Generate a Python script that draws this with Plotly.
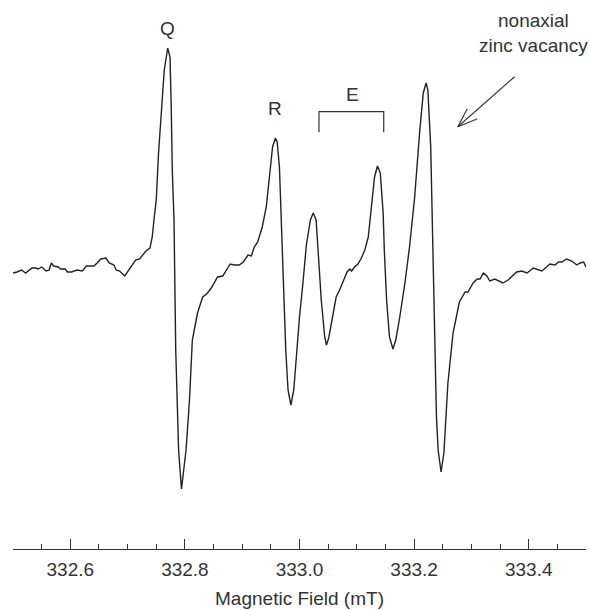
import plotly.graph_objects as go

# Magnetic field (mT)
field = [332.500, 332.507, 332.515, 332.522, 332.533, 332.540, 332.544, 332.550, 332.558, 332.563,
         332.567, 332.571, 332.579, 332.583, 332.591, 332.595, 332.602, 332.612, 332.621, 332.628,
         332.641, 332.647, 332.653, 332.662, 332.668, 332.676, 332.680, 332.686, 332.695, 332.704,
         332.714, 332.721, 332.732, 332.739, 332.743, 332.746, 332.750, 332.754, 332.760, 332.764,
         332.770, 332.774, 332.776, 332.778, 332.781, 332.784, 332.789, 332.794, 332.802, 332.808,
         332.813, 332.822, 332.831, 332.838, 332.846, 332.857, 332.866, 332.872, 332.879, 332.886,
         332.895, 332.902, 332.910, 332.916, 332.921, 332.927, 332.935, 332.942, 332.949, 332.953,
         332.958, 332.961, 332.965, 332.971, 332.976, 332.980, 332.985, 332.990, 332.994, 333.000,
         333.006, 333.012, 333.019, 333.024, 333.029, 333.034, 333.038, 333.044, 333.047, 333.051,
         333.058, 333.064, 333.070, 333.077, 333.083, 333.088, 333.091, 333.096, 333.102, 333.108,
         333.114, 333.120, 333.125, 333.131, 333.136, 333.141, 333.146, 333.148, 333.152, 333.157,
         333.163, 333.168, 333.175, 333.184, 333.192, 333.201, 333.210, 333.216, 333.221, 333.224,
         333.229, 333.232, 333.236, 333.239, 333.242, 333.247, 333.252, 333.259, 333.268, 333.279,
         333.289, 333.294, 333.303, 333.310, 333.315, 333.321, 333.327, 333.332, 333.341, 333.355,
         333.364, 333.379, 333.388, 333.397, 333.408, 333.423, 333.437, 333.446, 333.452, 333.458,
         333.466, 333.475, 333.484, 333.490, 333.496, 333.500]

# EPR derivative signal (arbitrary units)
signal = [-3, -2, 0, -3, 2, 2, 1, 3, -1, 0,
          7, 4, 3, 1, 1, -2, -2, 0, -1, 4,
          4, 7, 11, 12, 7, 5, 0, -1, -6, 2,
          10, 11, 19, 22, 33, 50, 70, 117, 167, 200,
          222, 213, 167, 100, 50, -80, -180, -219, -180, -130,
          -70, -43, -27, -24, -18, -7, -6, 0, 6, 5,
          5, 8, 15, 14, 23, 28, 43, 63, 103, 123,
          132, 128, 103, -10, -80, -120, -135, -120, -87, -47,
          -13, 25, 50, 57, 50, 10, -30, -67, -75, -68,
          -47, -27, -20, -10, -2, 1, -1, 3, 6, 12,
          20, 33, 63, 93, 104, 97, 57, 20, -30, -67,
          -79, -70, -47, -13, 23, 73, 140, 177, 187, 180,
          123, 40, -85, -147, -180, -202, -183, -113, -63, -32,
          -22, -22, -13, -9, -9, -3, -6, -11, -9, -13,
          -10, -2, -1, -3, 2, -1, 6, 5, 8, 8,
          11, 9, 5, 7, 8, 3]

tick_values = [332.6, 332.8, 333.0, 333.2, 333.4]
tick_labels = ["332.6", "332.8", "333.0", "333.2", "333.4"]

FONT = "Liberation Sans, Arial, Helvetica, sans-serif"
TXT = "#333333"
LINE = "#222222"

fig = go.Figure()
fig.add_trace(go.Scatter(x=field, y=signal, mode="lines",
                         line=dict(color=LINE, width=1.4), hoverinfo="skip",
                         showlegend=False))

# Peak labels
for txt, x, y in [("Q", 332.770, 241.7), ("R", 332.958, 161.7), ("E", 333.093, 176.0)]:
    fig.add_annotation(x=x, y=y, xref="x", yref="y", text=txt, showarrow=False,
                       font=dict(family=FONT, size=19, color=TXT),
                       xanchor="center", yanchor="middle")

fig.add_annotation(x=333.408, y=237.2, xref="x", yref="y",
                   text="nonaxial<br>zinc vacancy", showarrow=False, align="center",
                   font=dict(family=FONT, size=19, color=TXT),
                   xanchor="center", yanchor="middle")

# Bracket over E
fig.add_shape(type="path", xref="x", yref="y",
              path="M 333.034,137.7 L 333.034,158.3 L 333.147,158.3 L 333.147,137.7",
              line=dict(color=TXT, width=1.2))

# Arrow (shaft + open head)
for (x0, y0, x1, y1) in [(333.3755, 193.3, 333.2763, 143.3),
                         (333.2926, 161.0, 333.2763, 143.3),
                         (333.3096, 151.0, 333.2763, 143.3)]:
    fig.add_shape(type="line", xref="x", yref="y", x0=x0, y0=y0, x1=x1, y1=y1,
                  line=dict(color=TXT, width=1.2))

fig.update_xaxes(range=[332.5, 333.5], showline=True, linecolor=TXT, linewidth=1,
                 ticks="inside", ticklen=10, tickwidth=1, tickcolor=TXT,
                 tickvals=tick_values, ticktext=tick_labels, ticklabelstandoff=3,
                 minor=dict(ticks="inside", ticklen=5, tickwidth=1, tickcolor=TXT,
                            dtick=0.05, tick0=332.5, showgrid=False),
                 showgrid=False, zeroline=False,
                 tickfont=dict(family=FONT, size=19, color=TXT),
                 title=dict(text="Magnetic Field (mT)", font=dict(family=FONT, size=19, color=TXT),
                            standoff=12))
fig.update_yaxes(range=[-279, 270], visible=False, showgrid=False, zeroline=False)

fig.update_layout(width=590, height=610, margin=dict(l=13, r=4, t=0, b=61),
                  paper_bgcolor="white", plot_bgcolor="white")

fig.write_html("out.html")
